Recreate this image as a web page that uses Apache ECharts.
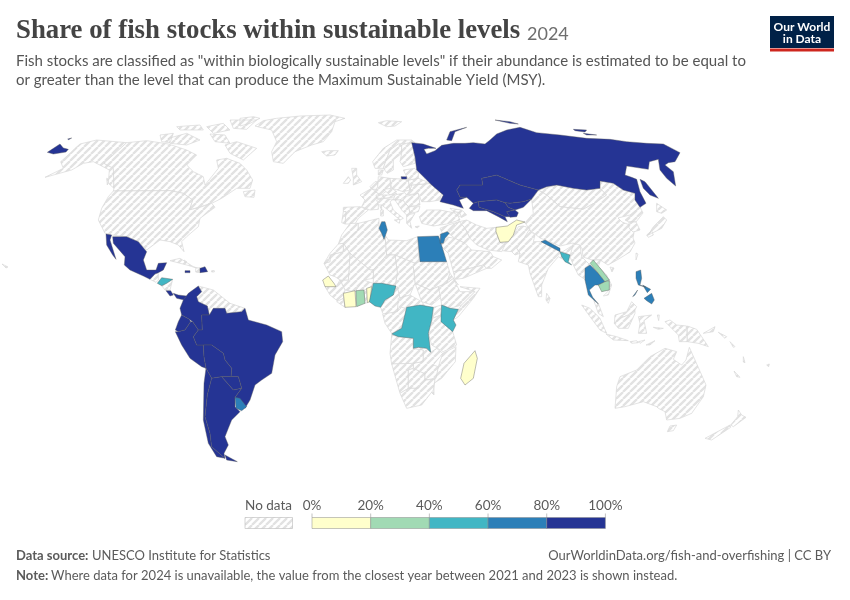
<!DOCTYPE html>
<html><head><meta charset="utf-8"><style>html,body{margin:0;background:#fff}#c{width:850px;height:600px}</style>
<script src="https://cdn.jsdelivr.net/npm/echarts@6/dist/echarts.min.js"></script></head><body><div id="c"></div><script>
// ---- data: share of stocks within sustainable levels (%), estimated from the colour bins
const countries = ["Russia","Kazakhstan","Uzbekistan","Turkmenistan","Kyrgyzstan","Tajikistan","Mexico","Jamaica","Dominican Republic","Costa Rica","Panama","Colombia","Ecuador","Peru","Brazil","Bolivia","Chile","Argentina","Paraguay","Uruguay","Honduras","Tunisia","Egypt","Jordan","Senegal","Cote d'Ivoire","Ghana","Benin","Nigeria","DR Congo","Kenya","Madagascar","Afghanistan","Nepal","Bangladesh","Thailand","Laos","Cambodia","Philippines"];
const shares    = [90,90,90,90,90,90,90,90,90,90,90,90,90,90,90,90,90,90,90,70,50,70,70,70,10,10,30,10,50,50,50,10,10,70,50,70,30,30,70];
const binEdges  = [0,20,40,60,80,100];
const binColors = ["#ffffcc","#a1dab4","#41b6c4","#2c7fb8","#253494"];
const binLabels = ["0%","20%","40%","60%","80%","100%"];
const noDataLabel = "No data";

// ---- base map outlines, in the map's own projected units
const Z1=[30,120],Z2=[130,280],Z3=[300,120],Z4=[310,220],Z5=[410,120],Z6=[470,210],Z7=[570,300],Z10=[240,100],Z11=[340,150],Z12=[420,200],P=[0,0];
const outlines = {
"Alaska":[[Z1,"92,125 120,100 135,85 150,72 200,60 290,68 222,130 250,145 252,205 235,190 238,150 190,125 160,130 125,150 45,172 100,145"]],
"Canada":[[Z1,"290,68 350,62 415,72 470,90 500,105 470,135 490,155 520,170 525,195 545,170 565,145 560,120 590,115 630,130 650,150 668,180 660,205 620,205 590,225 575,235 545,250 478,270 488,240 460,220 420,212 250,213 252,205 250,145 222,130"],[Z1,"585,75 620,65 680,85 640,120 600,100"],[Z1,"415,55 470,40 510,60 470,75 420,70"],[Z1,"440,20 510,15 520,30 450,30"],[Z1,"530,20 580,10 600,30 550,40"],[Z1,"390,45 430,40 420,68 395,65"],[Z1,"540,42 585,45 600,70 555,65"],[Z1,"600,0 680,0 650,28 610,25"],[Z1,"640,215 675,210 672,232 645,230"],[Z1,"230,175 236,178 232,195"],[Z10,"0,55 40,50 60,55 30,70 0,78"]],
"USA":[[Z1,"250,213 420,212 460,220 488,240 478,270 510,262 545,250 555,262 510,295 505,320 470,350 455,365 462,395 445,375 420,365 390,360 350,390 325,365 290,350 245,345 225,340 205,300 215,265 235,230"],[P,"2,264 8,267 6,268"]],
"Greenland":[[Z10,"45,78 70,62 110,55 180,48 270,45 315,55 285,65 275,95 250,125 215,135 165,155 130,190 100,185 95,155 110,125 95,90 60,82"]],
"Iceland":[[Z10,"245,155 265,152 295,152 285,165 260,168"]],
"Svalbard":[[Z10,"415,68 440,62 485,65 465,78 440,80"]],
"Cuba":[[Z1,"420,422 450,415 490,440 520,450 470,435"]],
"Haiti":[[Z1,"497,445 510,443 510,458 497,456"]],
"Bahamas":[[Z1,"462,420 470,425 465,428"],[Z1,"545,452 553,452 553,456 545,456"]],
"Guatemala":[[Z1,"360,478 375,462 385,460 385,480 378,487"]],
"Nicaragua":[[Z1,"395,497 428,478 420,510 405,510"]],
"Venezuela":[[Z2,"205,18 250,30 300,70 285,85 250,85 238,108 232,78 205,65 200,50 215,35"]],
"Guianas":[[Z2,"300,70 345,85 335,95 290,100 285,85"]],
"Norway":[[Z3,"218,125 250,85 290,60 335,60 345,68 320,70 295,72 270,90 255,130 250,145 225,145"]],
"Sweden":[[Z3,"255,130 270,90 295,72 305,75 305,100 280,120 280,150 262,160 250,145"]],
"Finland":[[Z3,"305,75 320,70 345,68 345,110 345,130 310,140 300,125 305,100"]],
"Mongolia":[[Z5,"385,210 440,195 490,205 530,210 570,205 590,225 560,245 520,268 450,260 410,225"]],
"China":[[P,"525,222.7 533.3,213.3 531.7,200 538.3,190 546.7,195 560,206.7 583.3,209.3 596.7,201.7 606.7,195 600,188 600,181 613,183 623,190 635,193 635,200 640,207 630,215 618,218 622,222 635,227 633,238 635,243 630,252 617,260 608,265 600,260 592,260 583,257 582,248 573,243 560,246 540,238 530,230"],[P,"610,267 614,268 612,272"]],
"Taiwan":[[P,"636,253 638,254 636,260"]],
"North Korea":[[P,"631,215 640,207 643,213 636,222 629,222 625,220"]],
"South Korea":[[P,"629,222 636,222 640,230 633,232 629,228"]],
"Japan":[[Z5,"715,345 730,320 760,290 770,300 755,325 725,340"],[Z5,"740,250 770,270 755,280 740,275"],[Z6,"530,75 545,62 550,75 535,82"]],
"India":[[Z6,"165,50 195,75 190,95 213,95 270,125 270,130 310,105 330,115 315,140 300,135 275,125 275,140 290,155 265,140 235,175 215,225 215,260 205,260 180,190 175,165 145,155 150,130 140,115 165,80"]],
"Sri Lanka":[[Z6,"230,250 240,265 235,280 228,270"]],
"Pakistan":[[Z6,"160,48 180,55 165,80 140,115 150,130 135,135 125,125 75,120 80,100 110,95 130,75 145,50"]],
"Iran":[[Z12,"140,60 170,75 200,85 228,82 228,95 240,127 255,135 245,155 205,150 170,135 150,115 135,85 118,65"]],
"Turkey":[[Z3,"358,290 380,270 420,270 470,280 480,300 440,312 400,318 365,310"]],
"Syria":[[Z12,"60,85 85,75 118,65 95,90 70,105"]],
"Iraq":[[Z12,"118,65 135,85 150,115 135,130 105,115 85,100 95,90"]],
"Saudi Arabia":[[Z12,"75,110 105,115 135,130 155,150 210,155 220,170 190,195 130,210 100,215 85,160 60,135"]],
"Israel":[[Z12,"58,105 62,102 60,130 55,118"]],
"Yemen":[[Z12,"100,215 130,210 190,195 200,205 130,235 105,238"]],
"Oman":[[Z12,"190,195 220,170 245,180 215,205 200,205"]],
"Georgia":[[Z12,"90,25 125,30 120,38 100,35"]],
"Azerbaijan":[[Z12,"118,38 128,32 140,45 125,52"]],
"Armenia":[[Z12,"100,35 118,38 125,52 110,45"]],
"Cyprus":[[Z3,"345,320 358,318 352,324"]],
"France":[[Z11,"60,135 95,115 125,140 115,160 115,178 90,180 65,170 75,150"]],
"Spain":[[Z11,"10,172 60,170 85,180 55,205 45,222 15,222 18,185 10,185"]],
"Portugal":[[Z11,"10,185 18,185 15,222 5,218"]],
"Ireland":[[Z11,"10,100 25,80 32,90 25,100"]],
"UK":[[Z11,"35,55 50,55 50,75 65,95 40,105 40,85"]],
"Denmark":[[Z11,"115,60 130,60 125,75 115,75"]],
"Benelux":[[Z11,"90,110 105,95 115,95 113,110 115,118 95,118"]],
"Germany":[[Z11,"115,80 150,85 152,115 130,130 125,135 105,125 113,110"]],
"Poland":[[Z11,"150,85 183,87 205,90 210,120 190,125 155,115"]],
"Czechia":[[Z11,"130,118 155,115 170,125 150,135"]],
"Austria":[[Z11,"130,135 150,135 170,130 170,140 130,145"]],
"Switzerland":[[Z11,"108,135 130,135 125,145 110,145"]],
"Italy":[[Z11,"110,150 130,145 160,148 150,155 160,180 190,205 180,210 150,185 125,165 115,165"],[Z11,"163,210 180,208 178,220"],[Z11,"122,180 130,180 130,198 122,198"],[Z11,"120,170 125,165 125,180"]],
"Hungary":[[Z11,"165,135 195,128 200,135 180,150 160,150"]],
"Romania":[[Z11,"195,140 235,130 240,165 205,170 188,150"]],
"Bulgaria":[[Z11,"205,170 240,170 235,185 210,190"]],
"Greece":[[Z11,"200,195 225,190 210,215 215,235 200,220"]],
"Balkans":[[Z11,"165,150 188,150 205,170 210,190 200,195 185,180"]],
"Ukraine":[[Z11,"210,120 215,105 275,100 305,130 300,150 270,155 245,155 235,130 200,135"]],
"Belarus":[[Z11,"205,90 235,85 260,95 275,100 215,105 210,120"]],
"Baltics":[[Z11,"190,60 225,55 235,70 235,85 205,90 200,80"]],
"Morocco":[[Z4,"95,45 120,10 145,10 145,30 100,70 85,72"]],
"Algeria":[[Z4,"100,70 145,30 145,10 207,-5 207,25 215,40 225,45 230,105 190,150 180,150 120,100"]],
"Libya":[[Z4,"225,45 235,60 290,62 323,50 327,125 315,130 255,105 230,105"]],
"Sudan":[[Z4,"327,125 410,125 420,160 410,190 385,200 360,210 315,190 310,140 315,130"]],
"South Sudan":[[Z4,"315,190 360,210 385,200 395,230 365,255 335,245"]],
"Chad":[[Z4,"255,105 315,130 310,140 315,190 300,225 265,235 255,200 262,160"]],
"Niger":[[Z4,"190,150 230,105 255,105 262,160 255,198 215,190 190,190"]],
"Mali":[[Z4,"120,100 180,150 190,150 190,175 160,180 135,215 105,210 90,180 115,180"]],
"Mauritania":[[Z4,"42,130 60,125 60,105 100,95 100,70 120,100 115,180 90,180 75,170 60,165"]],
"Western Sahara":[[Z4,"42,130 60,100 85,72 100,70 100,95 60,105 60,125"]],
"Guinea":[[Z4,"45,200 78,200 90,180 105,210 100,235 85,245 60,225"]],
"Liberia":[[Z4,"80,245 100,235 105,262"]],
"Burkina Faso":[[Z4,"135,215 160,180 190,190 185,200 165,210"]],
"Togo":[[Z4,"162,210 170,207 172,248 165,250"]],
"Cameroon":[[Z4,"212,262 225,240 250,225 262,200 270,235 262,275 225,285 218,280"]],
"Central African Republic":[[Z4,"265,235 300,225 335,245 345,258 290,265 262,275"]],
"Congo":[[Z4,"218,282 262,275 275,262 290,265 275,325 245,340 225,310"]],
"Uganda":[[Z4,"370,262 395,255 393,285 368,295"]],
"Ethiopia":[[Z4,"385,200 410,190 430,175 450,215 495,215 455,255 420,265 395,255 390,225"]],
"Somalia":[[Z4,"450,200 510,205 490,235 445,290 430,300 445,268 455,255 495,215"]],
"Eritrea":[[Z4,"410,190 420,160 445,195 430,175"]],
"Tanzania":[[Z4,"368,295 393,285 428,335 440,375 400,395 365,375 355,340"]],
"Angola":[[Z4,"245,345 265,350 310,355 310,385 340,390 340,425 310,430 245,432 240,400"]],
"Zambia":[[Z4,"310,385 325,382 350,385 362,397 380,385 398,400 370,435 345,462 310,445 310,430 340,425 340,390"]],
"Mozambique":[[Z4,"398,400 438,380 436,425 395,475 372,490 372,525 362,515 375,475 385,440"]],
"Namibia":[[Z4,"245,432 310,430 310,445 295,450 295,505 270,520"]],
"Botswana":[[Z4,"295,450 310,445 345,462 345,480 325,505 295,505"]],
"Zimbabwe":[[Z4,"345,462 370,435 385,440 378,475 345,480"]],
"South Africa":[[Z4,"270,520 295,505 325,505 345,480 375,478 370,510 335,555 290,565"]],
"Myanmar":[[Z6,"310,100 330,105 335,140 360,165 345,175 345,210 352,215 340,205 325,195 310,165 300,140"]],
"Vietnam":[[Z6,"365,150 392,150 385,170 410,195 425,225 415,255 400,258 418,240 418,210 395,180"]],
"Malaysia":[[Z6,"368,262 385,280 400,320 385,310"],[Z7,"135,45 170,35 185,5 200,20 195,30 175,45 150,55 133,70"]],
"Indonesia":[[Z7,"35,15 60,25 90,55 110,100 90,90 60,50"],[Z7,"108,102 140,110 175,122 130,120"],[Z7,"133,70 150,55 175,45 195,30 195,40 175,85 145,85"],[Z7,"205,50 245,45 222,62 230,100 205,100 210,70"],[Z7,"180,125 200,122 205,128 185,130"],[Z7,"205,125 225,120 210,130"],[Z7,"228,135 255,122 240,135"],[Z7,"285,65 300,60 320,75 350,78 352,125 328,125 325,105 300,80"],[Z7,"250,82 280,85 265,88"],[Z7,"262,45 268,45 266,62"]],
"Papua New Guinea":[[Z7,"352,78 380,88 395,110 415,140 385,130 352,125"],[Z7,"400,100 435,80 430,95"]],
"Solomon Islands":[[Z7,"445,97 470,110 465,115"],[Z7,"480,125 495,140 490,142"]],
"New Caledonia":[[Z7,"492,213 510,232 500,230"]],
"Vanuatu":[[Z7,"520,170 525,188 520,186"]],
"Fiji":[[Z7,"590,195 598,192 596,200"]],
"Australia":[[Z7,"135,325 140,260 150,230 200,210 240,170 285,145 320,155 310,178 335,195 348,180 358,142 375,180 395,225 408,255 400,290 365,340 330,355 290,360 285,335 265,325 260,320 220,305 165,320"],[Z7,"292,395 300,378 320,375 310,392"]],
"New Zealand":[[Z7,"505,330 515,345 528,352 490,380 482,375 503,350"],[Z7,"405,415 480,375 482,382 425,420"]],
// regions with a reported share
"Kazakhstan":[[Z5,"150,195 218,195 215,175 260,165 290,178 330,195 385,210 365,237 340,245 300,250 285,248 260,240 205,245 190,250 170,232 150,232 140,210"]],
"Uzbekistan":[[Z5,"205,245 260,240 285,248 295,262 315,270 290,275 300,290 285,290 250,275 207,262"]],
"Turkmenistan":[[Z5,"190,250 205,245 207,262 250,275 285,290 292,305 265,290 230,272 190,272 178,265"]],
"Kyrgyzstan":[[Z5,"285,248 300,250 340,245 365,237 340,262 315,270 295,262"]],
"Tajikistan":[[Z5,"290,275 315,270 325,278 320,290 300,292"]],
"Russia":[[Z5,"5,68 40,72 78,85 55,85 42,88 50,102 75,92 95,76 130,70 165,70 190,68 225,72 240,60 260,42 290,30 330,22 380,38 450,45 530,55 600,58 650,65 710,70 760,72 810,98 795,125 775,128 765,135 790,155 797,198 770,175 750,150 745,118 718,125 715,148 650,138 645,165 665,172 680,178 690,215 708,250 690,262 675,240 675,220 640,210 610,190 570,183 570,205 530,210 490,205 440,195 410,200 385,210 330,195 290,178 260,165 215,175 218,195 150,195 140,210 150,232 170,232 148,240 160,265 130,255 90,245 100,225 65,195 45,175 20,150 15,110"],[Z5,"690,178 705,185 745,235 720,225 700,205"],[Z5,"110,60 120,35 170,22 135,35 125,62"],[Z5,"255,0 300,5 325,12 300,10"],[Z5,"490,28 530,30 525,36 495,32"],[Z5,"520,40 560,45 530,45"],[Z1,"52,97 90,72 100,84 115,88 108,96 70,102"],[Z1,"113,57 125,54 128,57 116,59"],[Z11,"183,80 200,80 200,87 185,87"]],
"Mexico":[[Z1,"248,350 290,350 325,365 350,395 340,420 350,450 378,450 385,430 410,428 400,450 385,458 375,462 360,478 340,468 300,450 283,435 285,410 250,370"],[Z1,"228,342 245,345 240,360 258,418 248,405 230,375"]],
"Jamaica":[[Z1,"465,452 480,452 480,458 465,458"]],
"Dominican Republic":[[Z1,"510,445 525,440 533,455 510,458"]],
"Costa Rica":[[Z1,"408,512 422,512 430,525 420,528"]],
"Panama":[[Z1,"430,520 445,525 470,528 462,540 440,535"]],
"Honduras":[[Z1,"382,490 395,473 428,478 410,490 395,497"]],
"Colombia":[[Z2,"160,60 175,40 205,18 215,35 200,50 205,65 232,78 238,105 215,105 217,150 205,150 188,125 178,118 155,105 150,85"]],
"Ecuador":[[Z2,"155,105 178,118 182,125 165,150 145,155 136,150 145,125"]],
"Peru":[[Z2,"136,155 145,155 165,150 182,125 188,125 205,150 190,170 200,195 220,195 222,230 228,265 215,260 180,235 155,195"]],
"Brazil":[[Z2,"215,105 238,105 250,85 285,85 290,100 335,95 345,85 355,120 410,135 455,155 458,185 435,225 425,280 395,300 375,315 360,360 345,385 315,352 335,325 325,290 303,290 305,265 285,240 280,220 245,195 220,195 200,195 190,170 205,150 217,150"]],
"Bolivia":[[Z2,"220,195 245,195 280,220 285,240 305,265 303,290 275,290 245,295 228,265 222,230"]],
"Paraguay":[[Z2,"275,290 303,290 325,290 335,325 310,330"]],
"Chile":[[Z2,"228,265 245,295 232,345 225,410 240,460 245,500 285,535 260,530 235,490 220,420 222,310"]],
"Argentina":[[Z2,"245,295 275,290 310,330 335,325 315,352 315,380 330,395 305,420 295,445 285,470 295,495 282,520 285,535 245,500 240,460 225,410 232,345"],[Z2,"285,525 322,545 290,540"]],
"Uruguay":[[Z2,"315,352 330,355 350,380 335,392 318,385"]],
"Tunisia":[[Z4,"215,5 225,5 232,30 222,58 215,40 207,25"]],
"Egypt":[[Z4,"323,50 385,48 390,60 410,125 330,125"]],
"Jordan":[[Z12,"62,102 82,95 88,100 75,115 70,130 60,130"]],
"Senegal":[[Z4,"38,180 55,168 72,190 78,200 45,200"]],
"Cote d'Ivoire":[[Z4,"100,220 135,212 138,260 105,262"]],
"Ghana":[[Z4,"138,212 162,210 165,250 140,260"]],
"Benin":[[Z4,"170,205 185,200 180,245 172,248"]],
"Nigeria":[[Z4,"178,245 190,190 215,190 258,198 250,225 225,240 212,262 195,258"]],
"DR Congo":[[Z4,"245,342 275,325 290,262 330,255 370,262 365,300 355,340 362,397 350,385 325,382 310,385 310,355 265,350"]],
"Kenya":[[Z4,"395,255 420,265 445,268 430,300 438,315 428,335 393,305 393,285"]],
"Madagascar":[[Z4,"495,392 502,415 490,475 465,495 452,475 462,430"]],
"Afghanistan":[[Z12,"228,82 262,78 290,60 315,66 290,75 280,105 265,125 240,127 228,95"]],
"Nepal":[[Z6,"213,95 225,90 270,115 270,125"]],
"Bangladesh":[[Z6,"270,125 300,135 295,155 305,165 285,155 275,140"]],
"Thailand":[[Z6,"345,175 360,165 385,190 405,215 385,225 375,225 358,240 368,262 385,282 355,255 345,210"]],
"Laos":[[Z6,"360,160 370,150 395,180 418,210 405,215 385,190"]],
"Cambodia":[[Z6,"385,225 405,215 418,212 418,240 395,245"]],
"Philippines":[[Z6,"498,185 512,180 515,205 510,225 528,232 505,225 498,205"],[Z6,"488,260 503,240 495,255"],[Z6,"518,225 542,238 532,248"],[Z6,"522,265 545,250 553,270 545,282 530,272"]]
};
const ring=(o,s)=>s.trim().split(/\s+/).map(p=>{const [x,y]=p.split(',').map(Number);const k=o===P?1:1/3;return [o[0]+x*k,-(o[1]+y*k)];});
const geo={type:'FeatureCollection',features:Object.keys(outlines).map(n=>({type:'Feature',properties:{name:n},geometry:{type:'MultiPolygon',coordinates:outlines[n].map(r=>{const c=ring(r[0],r[1]);c.push(c[0]);return [c];})}}))};
echarts.registerMap('world',geo);

// hatch for "no data"
const hatch=document.createElement('canvas');hatch.width=hatch.height=7;
{const g=hatch.getContext('2d');g.fillStyle='#fff';g.fillRect(0,0,7,7);g.strokeStyle='#e2e2e2';g.lineWidth=2.3;g.beginPath();
for(const d of[-7,0,7]){g.moveTo(d,7);g.lineTo(d+7,0);}g.stroke();}

const LG={x:312,w:293.4,y:517.5,h:11,n:binColors.length};
const txt=(x,y,t,s)=>({type:'text',x,y,silent:true,style:Object.assign({text:t,fontFamily:'Lato',fontSize:13,fill:'#5b5b5b',textVerticalAlign:'middle'},s||{})});
const gfx=[
 txt(16,31,'Share of fish stocks within sustainable levels',{fontFamily:'Liberation Serif',fontWeight:700,fontSize:26.8,fill:'#444'}),
 txt(527,34,'2024',{fontSize:18,fill:'#6e6e6e'}),
 txt(16,61,'Fish stocks are classified as "within biologically sustainable levels" if their abundance is estimated to be equal to',{fontSize:15,fill:'#555'}),
 txt(16,80,'or greater than the level that can produce the Maximum Sustainable Yield (MSY).',{fontSize:15,fill:'#555'}),
 {type:'rect',shape:{x:770,y:16,width:64,height:32},style:{fill:'#002147'}},
 {type:'rect',shape:{x:770,y:48.5,width:64,height:3},style:{fill:'#ce261e'}},
 txt(802,27.5,'Our World',{fontSize:12,fontWeight:700,fill:'#fff',textAlign:'center'}),
 txt(802,39.5,'in Data',{fontSize:12,fontWeight:700,fill:'#fff',textAlign:'center'}),
 txt(268.5,506,noDataLabel,{textAlign:'center',fontSize:13.5}),
 {type:'rect',shape:{x:245,y:LG.y,width:47.5,height:LG.h},style:{fill:{image:hatch,repeat:'repeat'},stroke:'#bbb',lineWidth:.6}},
 txt(16,556,'Data source:',{fontWeight:700}),
 txt(92,556,'UNESCO Institute for Statistics'),
 txt(831,556,'OurWorldinData.org/fish-and-overfishing | CC BY',{textAlign:'right'}),
 txt(16,576,'Note:',{fontWeight:700}),
 txt(51,576,'Where data for 2024 is unavailable, the value from the closest year between 2021 and 2023 is shown instead.')
];
binColors.forEach((c,i)=>gfx.push({type:'rect',shape:{x:LG.x+LG.w*i/LG.n,y:LG.y,width:LG.w/LG.n,height:LG.h},style:{fill:c,stroke:'#8a8a8a',lineWidth:.5}}));
binLabels.forEach((t,i)=>{const x=LG.x+LG.w*i/LG.n;
 gfx.push(txt(x,506,t,{textAlign:'center',fontSize:13.5}));
 gfx.push({type:'line',shape:{x1:x,y1:513.5,x2:x,y2:LG.y},style:{stroke:'#999',lineWidth:.6}});});

echarts.init(document.getElementById('c'),null,{renderer:'canvas'}).setOption({
 animation:false,
 visualMap:{show:false,type:'piecewise',seriesIndex:0,pieces:binColors.map((c,i)=>({gte:binEdges[i],lt:binEdges[i+1],color:c}))},
 series:[{type:'map',map:'world',silent:true,aspectScale:1,roam:false,
  boundingCoords:[[0,0],[850,-600]],layoutCenter:[425,300],layoutSize:850,
  label:{show:false},emphasis:{disabled:true},select:{disabled:true},
  itemStyle:{areaColor:{image:hatch,repeat:'repeat'},borderColor:'#d8d8d8',borderWidth:.7},
  data:countries.map((n,i)=>({name:n,value:shares[i],itemStyle:{borderColor:'#5b5b5b',borderWidth:.4}}))}],
 graphic:gfx
});
</script></body></html>
